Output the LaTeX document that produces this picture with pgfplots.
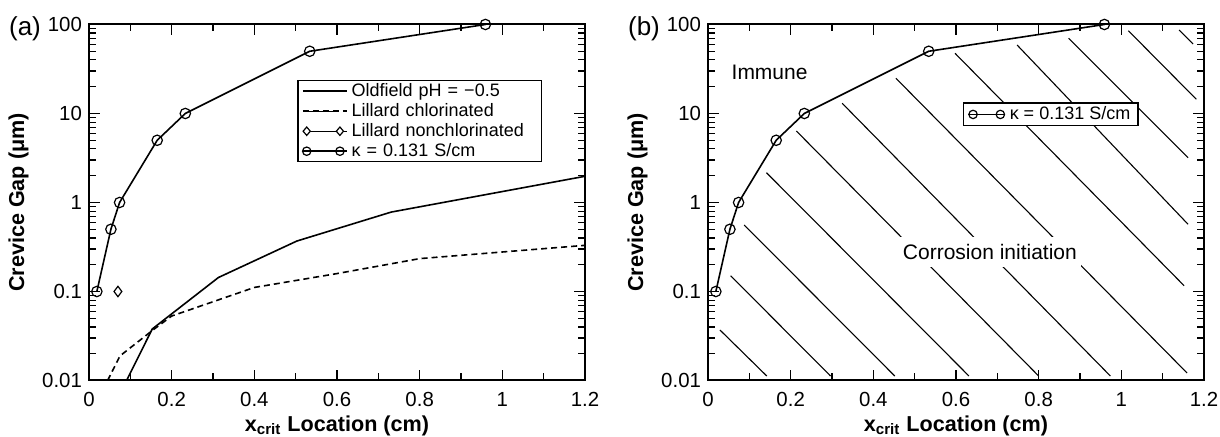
\documentclass[border=0pt]{standalone}
\usepackage{fontspec}
\setmainfont{Liberation Sans}
\usepackage{pgfplots}
\pgfplotsset{compat=1.18}

\pgfplotsset{
  crev/.style={
    scale only axis, width=248pt, height=178pt,
    anchor=south west,
    xmin=0, xmax=1.2, ymin=0.01, ymax=100,
    xtick={0,0.2,0.4,0.6,0.8,1,1.2},
    xticklabels={0,0.2,0.4,0.6,0.8,1,1.2},
    minor xtick={0.1,0.3,0.5,0.7,0.9,1.1},
    ytick={0.01,0.1,1,10,100},
    yticklabels={0.01,0.1,1,10,100},
    minor ytick={0.02,0.03,0.04,0.05,0.06,0.07,0.08,0.09,
                 0.2,0.3,0.4,0.5,0.6,0.7,0.8,0.9,
                 2,3,4,5,6,7,8,9,20,30,40,50,60,70,80,90},
    tick align=inside,
    major tick length=5.5pt, minor tick length=3.5pt,
    axis line style={line width=1pt},
    tick style={line width=0.6pt, black},
    tick label style={font=\fontsize{10.2}{12}\selectfont},
    xticklabel style={yshift=-2.5pt},
    label style={font=\bfseries\fontsize{10.8}{12}\selectfont},
    xlabel={x\textsubscript{crit} Location (cm)},
    ylabel={Crevice Gap (μm)},
    xlabel style={yshift=2.5pt},
    /pgf/number format/assume math mode=true,
    legend cell align=left,
    legend style={draw=black, line width=0.6pt, fill=white,
      font=\fontsize{9}{10}\selectfont,
      inner xsep=2pt, inner ysep=0.3pt, row sep=0pt, column sep=0pt},
  },
}

\begin{document}
\begin{tikzpicture}
\path[use as bounding box] (0,0) rectangle (610pt,218.5pt);

% ---------------- (a)
\begin{axis}[crev, ymode=log, name=A, at={(44.5pt,28.25pt)},
  legend style={at={(0.420,0.844)}, anchor=north west,
    nodes={inner xsep=2pt, inner ysep=0.5pt, text height=7pt, text depth=2pt, text width=91pt}}]
\addplot[line width=0.8pt,
  legend image code/.code={\path (0pt,0pt) -- (22pt,0pt);
    \draw[line width=0.7pt] (3pt,0pt) -- (14.7pt,0pt);}] coordinates {
  (0.091,0.01) (0.153,0.0379) (0.313,0.1435) (0.503,0.369) (0.731,0.78) (1.2,1.97)
};
\addlegendentry{Oldfield pH = −0.5}
\addplot[line width=0.8pt, dash pattern=on 3pt off 2pt,
  legend image code/.code={\path (0pt,0pt) -- (22pt,0pt);
    \draw[line width=0.7pt, dash pattern=on 3pt off 2pt] (3pt,0pt) -- (15pt,0pt);}] coordinates {
  (0.045,0.01) (0.075,0.0189) (0.155,0.037) (0.2,0.053) (0.4,0.111) (0.6,0.159) (0.8,0.234) (1.2,0.33)
};
\addlegendentry{Lillard chlorinated}
\addplot[only marks, mark=diamond, mark size=2.6pt, mark options={line width=0.6pt},
  legend image code/.code={\path (0pt,0pt) -- (22pt,0pt);
    \draw[line width=0.7pt] (1.9pt,0pt) -- (18.5pt,0pt);
    \draw[line width=0.6pt, fill=white] (1.9pt,2.1pt) -- (3.7pt,0pt) -- (1.9pt,-2.1pt) -- (0.1pt,0pt) -- cycle;
    \draw[line width=0.6pt, fill=white] (18.5pt,2.1pt) -- (20.3pt,0pt) -- (18.5pt,-2.1pt) -- (16.7pt,0pt) -- cycle;}] coordinates {
  (0.07,0.1)
};
\addlegendentry{Lillard nonchlorinated}
\addplot[line width=0.8pt, mark=o, mark size=2.6pt, mark options={line width=0.6pt},
  legend image code/.code={\path (0pt,0pt) -- (22pt,0pt);
    \draw[line width=0.7pt] (1.9pt,0pt) -- (18.5pt,0pt);
    \draw[line width=0.6pt] (1.9pt,0pt) circle (2.1pt) (18.5pt,0pt) circle (2.1pt);}] coordinates {
  (0.019,0.1) (0.053,0.5) (0.074,1) (0.165,5) (0.233,10) (0.534,50) (0.959,100)
};
\addlegendentry{κ = 0.131 S/cm}
\end{axis}
\node[font=\fontsize{13}{15}\selectfont] at (A.north west) [xshift=-32pt, yshift=-2.25pt] {(a)};

% ---------------- (b)
\begin{axis}[crev, ymode=log, name=B, at={(354pt,28.25pt)},
  legend style={at={(0.514,0.781)}, anchor=north west, inner ysep=0.6pt,
    nodes={inner xsep=1.8pt, inner ysep=0.6pt, text height=7pt, text depth=2pt}}]
\addplot[line width=0.55pt, forget plot] coordinates {(0.0289,0.03693) (0.1422,0.011234)};
\addplot[line width=0.55pt, forget plot] coordinates {(0.0547,0.1505) (0.2964,0.011234)};
\addplot[line width=0.55pt, forget plot] coordinates {(0.0875,0.5586) (0.4518,0.011234)};
\addplot[line width=0.55pt, forget plot] coordinates {(0.1414,2.162) (0.6313,0.011234)};
\addplot[line width=0.55pt, forget plot] coordinates {(0.2137,6.360) (0.8000,0.011234)};
\addplot[line width=0.55pt, forget plot] coordinates {(0.3246,13.02) (0.9735,0.011234)};
\addplot[line width=0.55pt, forget plot] coordinates {(0.4547,24.86) (1.1590,0.012145)};
\addplot[line width=0.55pt, forget plot] coordinates {(0.5976,47.47) (1.1518,0.1162)};
\addplot[line width=0.55pt, forget plot] coordinates {(0.7477,58.85) (1.1614,0.5690)};
\addplot[line width=0.55pt, forget plot] coordinates {(0.8723,69.97) (1.1614,3.186)};
\addplot[line width=0.55pt, forget plot] coordinates {(1.0169,85.19) (1.1814,14.44)};
\addplot[line width=0.55pt, forget plot] coordinates {(1.1398,86.76) (1.1735,60.38)};
\addplot[line width=0.8pt, mark=o, mark size=2.6pt, mark options={line width=0.6pt},
  legend image code/.code={\path (0pt,0pt) -- (18.5pt,0pt);
    \draw[line width=0.7pt] (2.35pt,0pt) -- (16pt,0pt);
    \draw[line width=0.6pt] (2.35pt,0pt) circle (2.1pt) (16pt,0pt) circle (2.1pt);}] coordinates {
  (0.019,0.1) (0.053,0.5) (0.074,1) (0.165,5) (0.233,10) (0.534,50) (0.959,100)
};
\addlegendentry{κ = 0.131 S/cm}
\node[font=\fontsize{10.5}{12}\selectfont] at (axis cs:0.149,29) {Immune};
\node[font=\fontsize{10.5}{12}\selectfont, fill=white, inner xsep=2pt, inner ysep=3.7pt]
  at (axis cs:0.682,0.2757) {Corrosion initiation};
\end{axis}
\node[font=\fontsize{13}{15}\selectfont] at (B.north west) [xshift=-32pt, yshift=-2.25pt] {(b)};
\end{tikzpicture}
\end{document}
